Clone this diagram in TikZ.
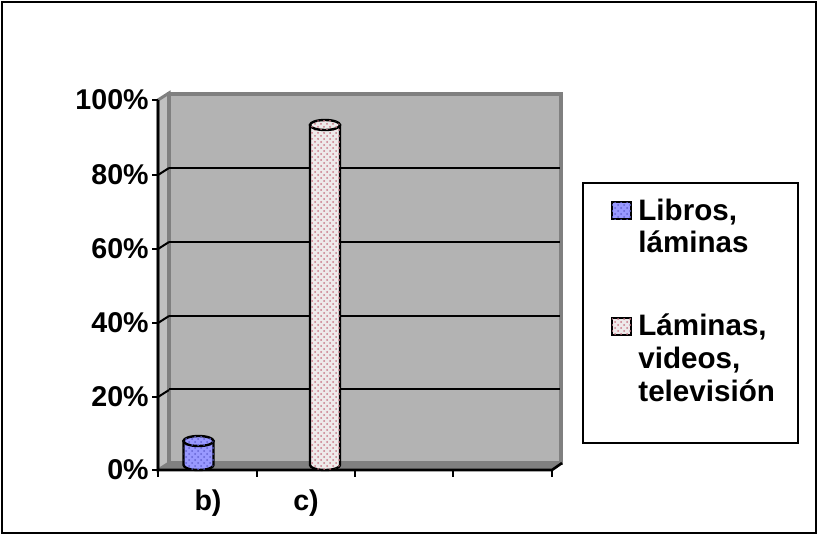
\documentclass[tikz,border=0pt]{standalone}
\usepackage{fontspec}
\setmainfont{Liberation Sans}
\usetikzlibrary{patterns}

\definecolor{wallgray}{RGB}{179,179,179}
\definecolor{edgegray}{RGB}{128,128,128}
\definecolor{sidegray}{RGB}{192,192,192}
\definecolor{libros}{RGB}{153,153,255}
\definecolor{librosdot}{RGB}{100,100,210}
\definecolor{laminas}{RGB}{238,234,234}
\definecolor{laminasdot}{RGB}{200,120,135}

\begin{document}
\begin{tikzpicture}[x=0.5pt,y=-0.5pt,
	axislabel/.style={font=\fontsize{14.3}{16}\selectfont\bfseries,inner sep=1pt},
	legendlabel/.style={font=\fontsize{14.8}{16.5}\selectfont\bfseries,inner sep=0pt,anchor=base west},
	grid/.style={black,line width=1pt},
	axis/.style={black,line width=1.3pt},
	bluebar/.style={fill=libros,postaction={pattern=crosshatch dots,pattern color=librosdot}},
	pinkbar/.style={fill=laminas,postaction={pattern=crosshatch dots,pattern color=laminasdot}}]
		\useasboundingbox (0,0) rectangle (818,535);
		\draw[line width=0.9pt] (2,2) rectangle (816,533);
		% walls and floor
		\draw[fill=sidegray,draw=edgegray,line width=1.5pt] (158,100) -- (169,93) -- (169,463) -- (158,470) -- cycle;
		\draw[fill=wallgray,draw=edgegray,line width=2pt] (169,94) rectangle (561,463);
		\fill[edgegray] (158,470) -- (169,462) -- (563,462) -- (552,470) -- cycle;
		\foreach \y in {168,242,316,389}
			\draw[grid] (169,\y) -- (560,\y);
		\foreach \y in {175,249,323,397}
			\draw[grid] (158,\y) -- (169,\y-7);
		% axes
		\draw[axis] (158,100) -- (158,470) -- (552,470) -- (562,463);
		\foreach \y in {100,175,249,323,397,470}
			\draw[axis] (152,\y) -- (158,\y);
		\foreach \x in {158,257,355,453,552}
			\draw[axis] (\x,470) -- (\x,477);
		% tick labels
		\node[axislabel,anchor=east] (p100) at (151,100) {100\%};
		\node[axislabel,anchor=east] (p80) at (151,175) {80\%};
		\node[axislabel,anchor=east] (p60) at (151,249) {60\%};
		\node[axislabel,anchor=east] (p40) at (151,323) {40\%};
		\node[axislabel,anchor=east] (p20) at (151,397) {20\%};
		\node[axislabel,anchor=east] (p0) at (151,470) {0\%};
		\node[axislabel] (catb) at (208,503) {b)};
		\node[axislabel] (catc) at (306,503) {c)};
		% columns
		\draw[bluebar,line width=1.2pt] (183.5,441) -- (183.5,465) arc[start angle=180,end angle=0,x radius=15,y radius=5] -- (213.5,441) -- cycle;
		\draw[bluebar,line width=1.2pt] (198.5,441) ellipse[x radius=15,y radius=5];
		\draw[pinkbar,line width=1.2pt] (310,125) -- (310,465) arc[start angle=180,end angle=0,x radius=15,y radius=5] -- (340,125) -- cycle;
		\draw[pinkbar,line width=1.2pt] (325,125) ellipse[x radius=15,y radius=5];
		% legend
		\draw[line width=1pt] (583,183) rectangle (798,443);
		\draw[bluebar,line width=1pt] (612,202) rectangle (631,219);
		\draw[pinkbar,line width=1pt] (612,318) rectangle (631,335);
		\node[legendlabel] (libros1) at (638,220) {Libros,};
		\node[legendlabel] (libros2) at (638,252) {láminas};
		\node[legendlabel] (laminas1) at (638,335) {Láminas,};
		\node[legendlabel] (laminas2) at (638,368) {videos,};
		\node[legendlabel] (laminas3) at (638,401) {televisión};
	\end{tikzpicture}
\end{document}
